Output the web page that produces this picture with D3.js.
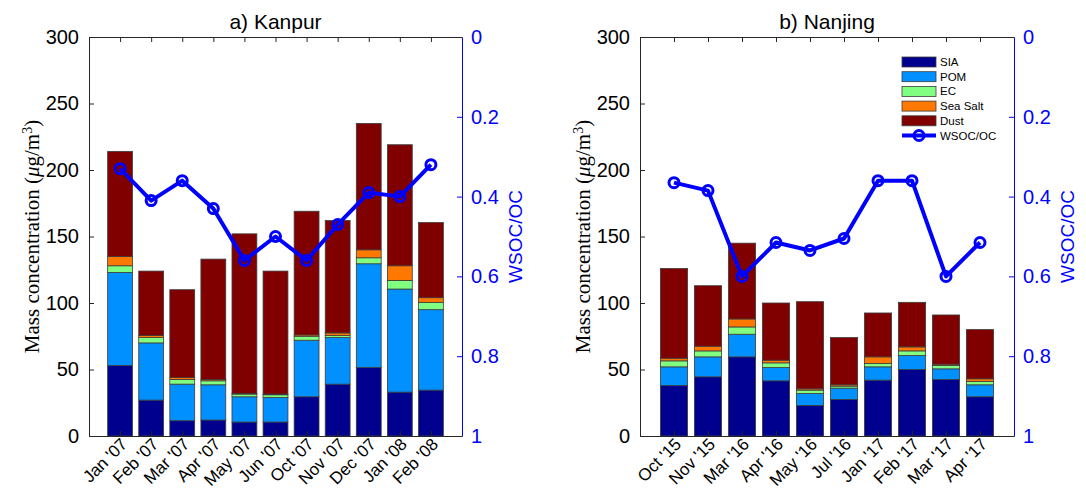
<!DOCTYPE html>
<html>
<head>
<meta charset="utf-8">
<script src="https://cdn.jsdelivr.net/npm/d3@7"></script>
<style>
    body { margin: 0; background: #fff; }
    svg { display: block; }
</style>
</head>
<body>
<svg id="chart" width="1086" height="489"></svg>
<script>
// Kanpur (a)
const kanpurMonths = ["Jan '07", "Feb '07", "Mar '07", "Apr '07", "May '07", "Jun '07", "Oct '07", "Nov '07", "Dec '07", "Jan '08", "Feb '08"];
const kanpurSIA = [53, 27, 11.5, 12, 10.5, 10.5, 29.5, 39, 51.5, 33, 34.5];
const kanpurPOM = [70, 43, 27.5, 26.5, 19, 18.5, 42.5, 35, 78, 77.5, 60.5];
const kanpurEC = [5, 4, 3.5, 3, 2, 2, 3, 1.5, 4.5, 6.5, 5.5];
const kanpurSeaSalt = [7, 1.5, 1.5, 1, 0.5, 0.5, 1, 2, 6, 11, 3.5];
const kanpurDust = [79, 48.5, 66, 90.5, 120, 92.5, 93, 84.5, 95, 91, 56.5];
const kanpurWsocOc = [0.33, 0.41, 0.36, 0.43, 0.56, 0.50, 0.56, 0.47, 0.39, 0.40, 0.32];

// Nanjing (b)
const nanjingMonths = ["Oct '15", "Nov '15", "Mar '16", "Apr '16", "May '16", "Jul '16", "Jan '17", "Feb '17", "Mar '17", "Apr '17"];
const nanjingSIA = [38, 44.5, 59.5, 41.5, 23, 27.5, 42, 50, 42.5, 29.5];
const nanjingPOM = [14, 15, 17, 10, 9, 8.5, 10, 10.5, 8, 9];
const nanjingEC = [4.5, 4.5, 5.5, 3.5, 2.5, 1.5, 2.5, 3.5, 2.5, 2.5];
const nanjingSeaSalt = [2, 3.5, 6, 2, 1, 1, 5, 3, 1, 2];
const nanjingDust = [67.5, 45.5, 57, 43, 65.5, 35.5, 33, 33.5, 37, 37];
const nanjingWsocOc = [0.365, 0.385, 0.60, 0.515, 0.535, 0.505, 0.36, 0.36, 0.60, 0.515];

// Axis ticks
const massTicks = [0, 50, 100, 150, 200, 250, 300];
const ratioTicks = [0, 0.2, 0.4, 0.6, 0.8, 1];

const componentNames = ["SIA", "POM", "EC", "Sea Salt", "Dust"];
const componentColors = ["#00008F", "#0090FF", "#80FF80", "#FF7800", "#800000"];
const lineColor = "#0000FF";
const axisColor = "#262626";

const svg = d3.select("#chart");
svg.append("rect").attr("width", 1086).attr("height", 489).attr("fill", "#fff");

const plotTop = 37, plotBottom = 436;

function drawPanel(opts) {
    const g = svg.append("g");

    // Stack rows from the component arrays
    const rows = opts.months.map((m, i) => {
        const row = { month: m };
        opts.series.forEach((s, k) => { row[componentNames[k]] = s[i]; });
        return row;
    });
    const stacked = d3.stack().keys(componentNames)(rows);

    const x = d3.scalePoint().domain(opts.months).range([opts.left, opts.right]).padding(1);
    const y = d3.scaleLinear().domain([0, 300]).range([plotBottom, plotTop]);
    const y2 = d3.scaleLinear().domain([0, 1]).range([plotTop, plotBottom]);
    const barW = x.step() * 0.8;

    // Bars
    g.selectAll(".layer")
        .data(stacked)
        .enter().append("g")
        .attr("fill", (d, k) => componentColors[k])
        .selectAll("rect")
        .data(d => d)
        .enter().append("rect")
        .attr("x", d => x(d.data.month) - barW / 2)
        .attr("y", d => y(d[1]))
        .attr("width", barW)
        .attr("height", d => y(d[0]) - y(d[1]))
        .attr("stroke", "#3c3c3c")
        .attr("stroke-width", 0.8);

    // WSOC/OC line
    const line = d3.line()
        .x((d, i) => x(opts.months[i]))
        .y(d => y2(d));
    g.append("path")
        .datum(opts.ratio)
        .attr("d", line)
        .attr("fill", "none")
        .attr("stroke", lineColor)
        .attr("stroke-width", 4)
        .attr("stroke-linejoin", "round");
    g.selectAll(".marker")
        .data(opts.ratio)
        .enter().append("circle")
        .attr("cx", (d, i) => x(opts.months[i]))
        .attr("cy", d => y2(d))
        .attr("r", 5)
        .attr("fill", "none")
        .attr("stroke", lineColor)
        .attr("stroke-width", 3);

    // Left axis
    const leftAxis = g.append("g")
        .attr("transform", `translate(${opts.left},0)`)
        .call(d3.axisLeft(y).tickValues(massTicks).tickSizeInner(-5).tickSizeOuter(0).tickPadding(10));
    leftAxis.select(".domain").attr("stroke", axisColor);
    leftAxis.selectAll("line").attr("stroke", axisColor);
    leftAxis.selectAll("text")
        .attr("fill", "#000")
        .style("font-family", "'Liberation Sans', Arial, sans-serif")
        .style("font-size", "20px");

    // Right axis
    const rightAxis = g.append("g")
        .attr("transform", `translate(${opts.right},0)`)
        .call(d3.axisRight(y2).tickValues(ratioTicks).tickFormat(d3.format("~g")).tickSizeInner(-5).tickSizeOuter(0).tickPadding(9));
    rightAxis.select(".domain").attr("stroke", lineColor);
    rightAxis.selectAll("line").attr("stroke", lineColor);
    rightAxis.selectAll("text")
        .attr("fill", lineColor)
        .style("font-family", "'Liberation Sans', Arial, sans-serif")
        .style("font-size", "20px");

    // Top and bottom box lines with inward ticks
    const topAxis = g.append("g")
        .attr("transform", `translate(0,${plotTop})`)
        .call(d3.axisTop(x).tickSizeInner(-5).tickSizeOuter(0).tickFormat(""));
    const bottomAxis = g.append("g")
        .attr("transform", `translate(0,${plotBottom})`)
        .call(d3.axisBottom(x).tickSizeInner(-5).tickSizeOuter(0).tickFormat(""));
    [topAxis, bottomAxis].forEach(a => {
        a.select(".domain").attr("stroke", axisColor);
        a.selectAll("line").attr("stroke", axisColor);
    });

    // Rotated month labels
    g.selectAll(".month")
        .data(opts.months)
        .enter().append("text")
        .attr("transform", d => `translate(${x(d) + 4},${plotBottom + 5}) rotate(-45)`)
        .attr("text-anchor", "end")
        .attr("dy", "0.35em")
        .style("font-family", "'Liberation Sans', Arial, sans-serif")
        .style("font-size", "17px")
        .text(d => d);

    // Title
    g.append("text")
        .attr("x", (opts.left + opts.right) / 2)
        .attr("y", 29)
        .attr("text-anchor", "middle")
        .style("font-family", "'Liberation Sans', Arial, sans-serif")
        .style("font-size", "21px")
        .text(opts.title);

    // Left label
    const lab = g.append("text")
        .attr("transform", `translate(${opts.left - 57},${(plotTop + plotBottom) / 2}) rotate(-90)`)
        .attr("text-anchor", "middle")
        .attr("dy", "0.35em")
        .style("font-family", "'Liberation Serif', 'Times New Roman', serif")
        .style("font-size", "21px");
    lab.append("tspan").text("Mass concentration (");
    lab.append("tspan").style("font-style", "italic").text("\u03bc");
    lab.append("tspan").text("g/m");
    lab.append("tspan").attr("baseline-shift", "super").style("font-size", "14px").text("3");
    lab.append("tspan").text(")");

    // Right label
    g.append("text")
        .attr("transform", `translate(${opts.right + 53},${(plotTop + plotBottom) / 2}) rotate(-90)`)
        .attr("text-anchor", "middle")
        .attr("dy", "0.35em")
        .attr("fill", lineColor)
        .style("font-family", "'Liberation Sans', Arial, sans-serif")
        .style("font-size", "19px")
        .text("WSOC/OC");
}

drawPanel({
    title: "a) Kanpur",
    left: 89, right: 462,
    months: kanpurMonths,
    series: [kanpurSIA, kanpurPOM, kanpurEC, kanpurSeaSalt, kanpurDust],
    ratio: kanpurWsocOc
});

drawPanel({
    title: "b) Nanjing",
    left: 640, right: 1014,
    months: nanjingMonths,
    series: [nanjingSIA, nanjingPOM, nanjingEC, nanjingSeaSalt, nanjingDust],
    ratio: nanjingWsocOc
});

// Legend (in panel b)
const legend = svg.append("g").attr("transform", "translate(902,62)");
const rowH = 14.7;
componentNames.forEach((name, k) => {
    legend.append("rect")
        .attr("x", 0).attr("y", k * rowH - 5)
        .attr("width", 34).attr("height", 10)
        .attr("fill", componentColors[k])
        .attr("stroke", "#3c3c3c")
        .attr("stroke-width", 0.8);
    legend.append("text")
        .attr("x", 38).attr("y", k * rowH)
        .attr("dy", "0.35em")
        .style("font-family", "'Liberation Sans', Arial, sans-serif")
        .style("font-size", "11.5px")
        .text(name);
});
const ly = componentNames.length * rowH;
legend.append("line")
    .attr("x1", 0).attr("x2", 34).attr("y1", ly).attr("y2", ly)
    .attr("stroke", lineColor).attr("stroke-width", 4);
legend.append("circle")
    .attr("cx", 17).attr("cy", ly).attr("r", 5)
    .attr("fill", "none").attr("stroke", lineColor).attr("stroke-width", 3);
legend.append("text")
    .attr("x", 38).attr("y", ly)
    .attr("dy", "0.35em")
    .style("font-family", "'Liberation Sans', Arial, sans-serif")
    .style("font-size", "11.5px")
    .text("WSOC/OC");
</script>
</body>
</html>
